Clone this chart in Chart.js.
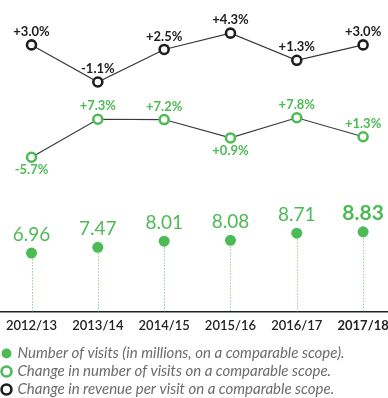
<!DOCTYPE html>
<html>
<head>
<meta charset="utf-8">
<script src="https://cdn.jsdelivr.net/npm/chart.js@4"></script>
<style>
  html, body { margin: 0; padding: 0; background: #fff; }
  #wrap { width: 388px; height: 398px; position: relative; }
</style>
</head>
<body>
<div id="wrap"><canvas id="c" width="388" height="398"></canvas></div>
<script>
// ---- data ----
const categories = ["2012/13", "2013/14", "2014/15", "2015/16", "2016/17", "2017/18"];
const visits = [6.96, 7.47, 8.01, 8.08, 8.71, 8.83];            // millions
const visitsChange = [-5.7, 7.3, 7.2, 0.9, 7.8, 1.3];          // %
const revenuePerVisitChange = [3.0, -1.1, 2.5, 4.3, 1.3, 3.0]; // %
const legendLabels = [
  "Number of visits (in millions, on a comparable scope).",
  "Change in number of visits on a comparable scope.",
  "Change in revenue per visit on a comparable scope."
];

const GREEN = '#4cbb55';
const DARK = '#1e1e1e';
const FONT = 'Lato, "Open Sans", sans-serif';

const toXY = arr => arr.map((v, i) => ({ x: i, y: v }));
const pct = v => (v >= 0 ? '+' : '') + v.toFixed(1) + '%';

// label placement: -1 above, +1 below
const ringLabelSide = [1, -1, -1, 1, -1, -1];

const dropLines = {
  id: 'dropLines',
  beforeDatasetsDraw(chart) {
    const meta = chart.getDatasetMeta(0);
    const ctx = chart.ctx;
    const bottom = chart.chartArea.bottom;
    ctx.save();
    ctx.strokeStyle = '#8fd397';
    ctx.lineWidth = 1;
    ctx.setLineDash([1.5, 1.5]);
    meta.data.forEach(el => {
      ctx.beginPath();
      ctx.moveTo(Math.round(el.x) + 0.5, el.y);
      ctx.lineTo(Math.round(el.x) + 0.5, bottom);
      ctx.stroke();
    });
    ctx.restore();
  }
};

const pointLabels = {
  id: 'pointLabels',
  afterDatasetsDraw(chart) {
    const ctx = chart.ctx;
    ctx.save();
    ctx.textAlign = 'center';
    ctx.textBaseline = 'middle';
    // visits
    chart.getDatasetMeta(0).data.forEach((el, i) => {
      const last = i === visits.length - 1;
      ctx.font = (last ? 'bold 21px ' : '19px ') + FONT;
      ctx.fillStyle = GREEN;
      ctx.fillText(visits[i].toFixed(2), el.x, el.y - (last ? 19 : 18));
    });
    // visits change
    chart.getDatasetMeta(1).data.forEach((el, i) => {
      ctx.font = 'bold 13px ' + FONT;
      ctx.fillStyle = GREEN;
      ctx.fillText(pct(visitsChange[i]), el.x, el.y + ringLabelSide[i] * 13);
    });
    // revenue per visit change
    chart.getDatasetMeta(2).data.forEach((el, i) => {
      ctx.font = 'bold 13px ' + FONT;
      ctx.fillStyle = DARK;
      ctx.fillText(pct(revenuePerVisitChange[i]), el.x, el.y - 13);
    });
    ctx.restore();
  }
};

new Chart(document.getElementById('c'), {
  type: 'line',
  data: {
    datasets: [
      {
        label: legendLabels[0],
        data: toXY(visits),
        yAxisID: 'yV',
        showLine: false,
        pointRadius: 5.5,
        pointBackgroundColor: GREEN,
        pointBorderColor: GREEN,
        pointBorderWidth: 0,
        backgroundColor: GREEN,
        borderColor: GREEN
      },
      {
        label: legendLabels[1],
        data: toXY(visitsChange),
        yAxisID: 'yC',
        borderColor: '#3a3a3a',
        borderWidth: 1.2,
        tension: 0,
        pointRadius: 4.5,
        pointBackgroundColor: '#fff',
        pointBorderColor: GREEN,
        pointBorderWidth: 2.6
      },
      {
        label: legendLabels[2],
        data: toXY(revenuePerVisitChange),
        yAxisID: 'yR',
        borderColor: '#3a3a3a',
        borderWidth: 1.2,
        tension: 0,
        pointRadius: 4.5,
        pointBackgroundColor: '#fff',
        pointBorderColor: DARK,
        pointBorderWidth: 2.6
      }
    ]
  },
  options: {
    responsive: false,
    animation: false,
    layout: { autoPadding: false, padding: { top: 0, left: 0, right: 0, bottom: -9 } },
    plugins: {
      tooltip: { enabled: false },
      legend: {
        position: 'bottom',
        align: 'start',
        labels: {
          usePointStyle: true,
          pointStyle: 'circle',
          boxHeight: 7,
          boxWidth: 7,
          padding: 3,
          color: '#6b6b6b',
          font: { family: FONT, size: 15, style: 'italic', lineHeight: 1.0 }
        }
      }
    },
    scales: {
      x: {
        type: 'linear',
        min: -0.475,
        max: 5.375,
        afterBuildTicks: axis => { axis.ticks = categories.map((c, i) => ({ value: i })); },
        afterFit: axis => { axis.paddingLeft = 0; axis.paddingRight = 0; axis.height += 10; },
        grid: { display: false },
        border: { display: true, color: '#222', width: 1.5 },
        ticks: {
          padding: -1,
          color: '#222',
          autoSkip: false,
          maxRotation: 0,
          callback: v => categories[v],
          font: ctx => ({ family: FONT, size: 13, weight: ctx.index === categories.length - 1 ? 'bold' : '600' })
        }
      },
      yV: { display: false, min: 1.836, max: 29.2 },
      yC: { display: false, min: -58.44, max: 48.09 },
      yR: { display: false, min: -26.48, max: 7.97 }
    }
  },
  plugins: [dropLines, pointLabels]
});
</script>
</body>
</html>
